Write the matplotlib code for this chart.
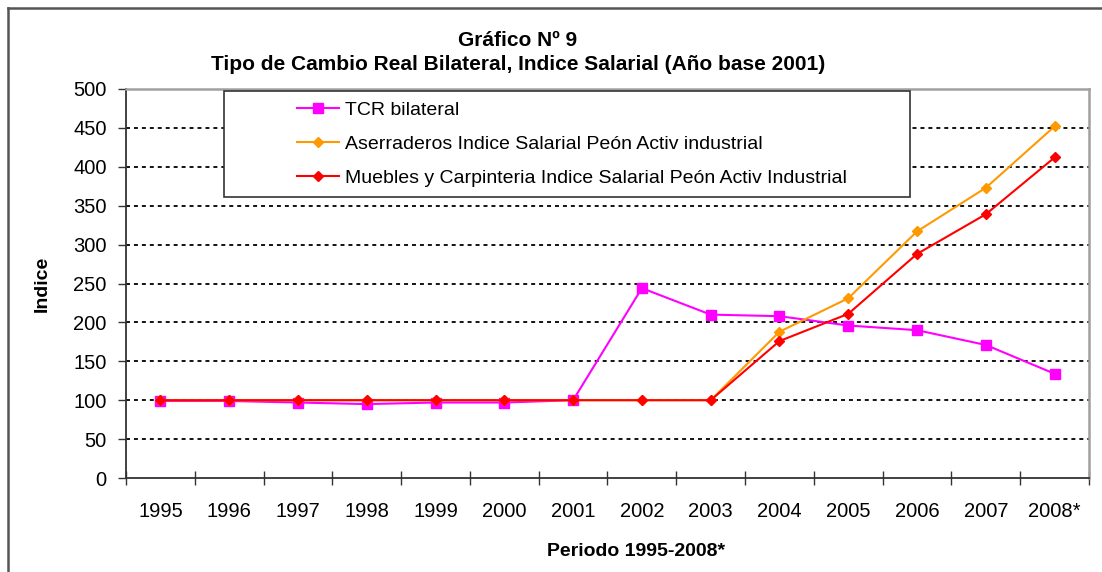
import matplotlib
matplotlib.use("Agg")
import matplotlib.pyplot as plt
from matplotlib.lines import Line2D
from matplotlib.patches import Rectangle

years = ["1995", "1996", "1997", "1998", "1999", "2000", "2001",
         "2002", "2003", "2004", "2005", "2006", "2007", "2008*"]
tcr = [99, 99, 97, 95, 97, 97, 100, 244, 210, 208, 196, 190, 171, 134]
aserraderos = [100, 100, 100, 100, 100, 100, 100, 100, 100, 188, 231, 317, 373, 452]
muebles = [100, 100, 100, 100, 100, 100, 100, 100, 100, 176, 211, 288, 339, 412]
labels = ["TCR bilateral",
          "Aserraderos Indice Salarial Peón Activ industrial",
          "Muebles y Carpinteria Indice Salarial Peón Activ Industrial"]
yticks = list(range(0, 501, 50))

plt.rcParams['font.family'] = ['Liberation Sans', 'DejaVu Sans']

W, H = 1102, 572
fig = plt.figure(figsize=(W / 100, H / 100), dpi=100)
ax = fig.add_axes([126 / W, (H - 478) / H, (1089 - 126) / W, (478 - 89) / H])

x = list(range(len(years)))
ax.plot(x, tcr, color='#FF00FF', marker='s', markersize=7, lw=1.5, label=labels[0])
ax.plot(x, aserraderos, color='#FF9900', marker='D', markersize=5.5, lw=1.5, label=labels[1])
ax.plot(x, muebles, color='#FF0000', marker='D', markersize=5.5, lw=1.5, label=labels[2])

ax.set_xlim(-0.5, len(years) - 0.5)
ax.set_ylim(0, 500)
ax.set_yticks(yticks)
ax.set_xticks(x)
ax.set_xticklabels(years, fontsize=14.5)
ax.set_xticks([i - 0.5 for i in range(len(years) + 1)], minor=True)
ax.tick_params(axis='x', which='major', length=0, pad=17)
ax.tick_params(axis='x', which='minor', direction='inout', length=10, width=1, color='#333333')
ax.tick_params(axis='y', direction='out', length=6, width=1, labelsize=14.5, pad=8, color='#333333')

for v in yticks[1:]:
    ax.axhline(v, color='black', lw=1.3, dashes=(2.2, 2.2), zorder=0.5)

for s in ['left', 'bottom']:
    ax.spines[s].set_color('#333333')
    ax.spines[s].set_linewidth(1.3)
for s in ['top', 'right']:
    ax.spines[s].set_color('#A0A0A0')
    ax.spines[s].set_linewidth(1.8)

ax.set_ylabel("Indice", fontsize=14, fontweight='bold')
ax.yaxis.set_label_coords(-0.078, 0.5)
fig.text(636 / W, 1 - 551 / H, "Periodo 1995-2008*", fontsize=14, fontweight='bold',
         ha='center', va='center')

fig.text(518 / W, 1 - 40 / H, "Gráfico Nº 9", fontsize=15, fontweight='bold',
         ha='center', va='center')
fig.text(518 / W, 1 - 65 / H, "Tipo de Cambio Real Bilateral, Indice Salarial (Año base 2001)",
         fontsize=15, fontweight='bold', ha='center', va='center')

# legend box
fig.patches.append(Rectangle((224 / W, 1 - 197 / H), (910 - 224) / W, (197 - 91) / H,
                             transform=fig.transFigure, facecolor='white',
                             edgecolor='#333333', lw=1.2, zorder=3))
leg = fig.legend(loc='upper left', bbox_to_anchor=(279 / W, 1 - 84 / H), frameon=False,
                 fontsize=14, handlelength=2.2, handletextpad=0.3, labelspacing=0.83)
leg.set_zorder(4)

# outer frame
fig.add_artist(Line2D([8 / W, 1], [1 - 8 / H, 1 - 8 / H], transform=fig.transFigure,
                      color='#555555', lw=1.8))
fig.add_artist(Line2D([8 / W, 8 / W], [0, 1 - 8 / H], transform=fig.transFigure,
                      color='#555555', lw=1.8))

fig.savefig("out.png", dpi=100)
